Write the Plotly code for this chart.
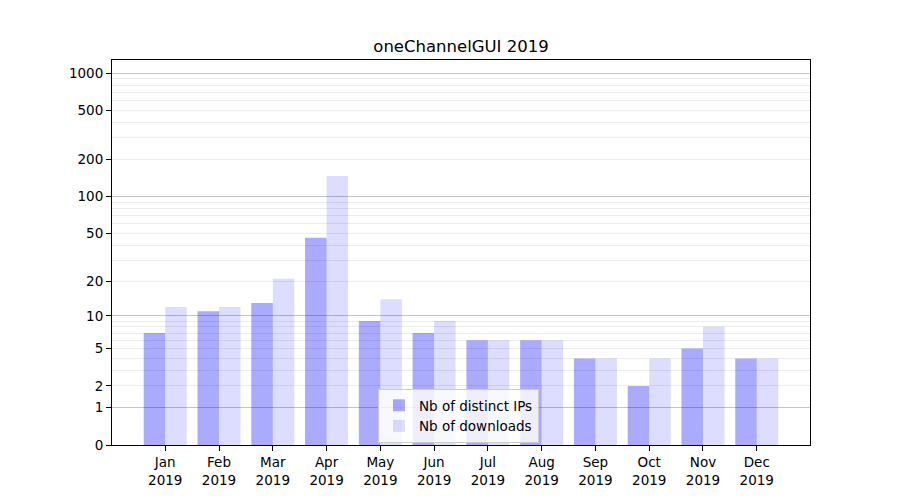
import numpy as np
import plotly.graph_objects as go

months = ["Jan", "Feb", "Mar", "Apr", "May", "Jun", "Jul", "Aug", "Sep", "Oct", "Nov", "Dec"]
year = "2019"
distinct_ips = [7, 11, 13, 46, 9, 7, 6, 6, 4, 2, 5, 4]
downloads = [12, 12, 21, 147, 14, 9, 6, 6, 4, 4, 8, 4]
y_tick_values = [0, 1, 2, 5, 10, 20, 50, 100, 200, 500, 1000]
major_grid_values = [1, 10, 100, 1000]
minor_grid_values = [m * d for d in (1, 10, 100) for m in range(2, 10)]

def tr(v):
    return np.log10(1 + np.asarray(v, dtype=float))

x = list(range(len(months)))
xlabels = [f"{m}<br>{year}" for m in months]

fig = go.Figure()
fig.add_trace(go.Bar(x=x, y=tr(distinct_ips), name="Nb of distinct IPs",
                     marker=dict(color="rgba(0,0,255,0.333)", line=dict(width=0)),
                     offset=-0.4, width=0.4))
fig.add_trace(go.Bar(x=x, y=tr(downloads), name="Nb of downloads",
                     marker=dict(color="rgba(0,0,255,0.133)", line=dict(width=0)),
                     offset=0.0, width=0.4))
# invisible trace to anchor grid overlay axis
fig.add_trace(go.Scatter(x=[0], y=[0], yaxis="y2", mode="markers",
                         marker=dict(opacity=0), showlegend=False, hoverinfo="skip"))

yr = [0, 3.107]
font = dict(family="DejaVu Sans", size=13.5, color="black")
fig.update_layout(
    width=900, height=500,
    margin=dict(l=112, r=90, t=60, b=55),
    plot_bgcolor="white", paper_bgcolor="white",
    barmode="overlay",
    font=font,
    title=dict(text="oneChannelGUI 2019", x=0.5, xref="paper", xanchor="center",
               y=1 - 46 / 500, yref="container", yanchor="middle",
               font=dict(family="DejaVu Sans", size=16.5, color="black")),
    xaxis=dict(range=[-0.99, 11.99], tickvals=x, ticktext=xlabels,
               showgrid=False, zeroline=False, showline=True, linecolor="black",
               linewidth=1, mirror=True, ticks="outside", ticklen=5,
               tickcolor="black", tickfont=font),
    yaxis=dict(range=yr, tickvals=tr(y_tick_values), ticktext=[str(v) for v in y_tick_values],
               showgrid=False, zeroline=False, showline=True, linecolor="black",
               linewidth=1, mirror=True, ticks="outside", ticklen=5,
               tickcolor="black", tickfont=font),
    yaxis2=dict(range=yr, overlaying="y", side="left", tickvals=tr(major_grid_values),
                showticklabels=False, ticks="", showgrid=True, gridcolor="#c4c4c4",
                gridwidth=1, zeroline=False, showline=False,
                minor=dict(tickvals=tr(minor_grid_values), showgrid=True,
                           gridcolor="#ececec", gridwidth=1, ticks="")),
    legend=dict(x=(378 - 112) / 698, y=(445 - 389) / 385, xanchor="left", yanchor="top",
                bgcolor="rgba(255,255,255,0.8)", bordercolor="#cccccc", borderwidth=1,
                font=font),
)
fig.write_html("out.html", config={"displayModeBar": False},
               post_script="document.body.style.margin='0';")
